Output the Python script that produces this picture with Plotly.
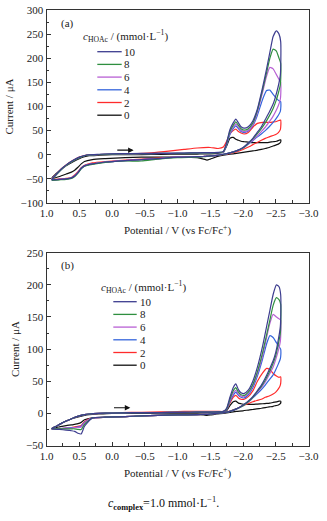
import plotly.graph_objects as go

# ---------------- data ----------------
# potential grid (V vs Fc/Fc+): forward (cathodic) branch then reverse branch
E_FWD = [0.92, 0.85, 0.78, 0.7, 0.6, 0.5, 0.42, 0.35, 0.2, 0.0, -0.3, -0.6, -0.9, -1.1, -1.3, -1.5, -1.62,
         -1.7, -1.75, -1.8, -1.85, -1.89, -1.93, -1.97, -2.02, -2.08, -2.15, -2.22, -2.3, -2.36, -2.41,
         -2.46, -2.51, -2.55, -2.575]
E_REV = [-2.578, -2.57, -2.54, -2.5, -2.46, -2.4, -2.34, -2.28, -2.21, -2.15, -2.1, -2.0,
         -1.9, -1.8, -1.7, -1.6, -1.5, -1.45, -1.4, -1.3, -1.0, -0.7, -0.45, -0.2, 0.1, 0.3,
         0.42, 0.47, 0.52, 0.57, 0.62, 0.7, 0.8, 0.92]

CONC = ["10", "8", "6", "4", "2", "0"]
COLORS = ["#3d3d8f", "#2f8f3f", "#b860d4", "#3465dc", "#ff2b2b", "#111111"]

# panel (a) currents / uA
A10_FWD = [-51, -40, -30, -21, -12, -5, -1.5, 0, 1, 2, 2.5, 3, 3, 3.5, 4, 4.5, 5,
           7, 25, 52, 66, 74, 66, 58, 55, 58, 70, 95, 140, 178, 212, 245, 257, 250, 235]
A8_FWD = [-52, -41, -31, -22, -13, -6, -2, -0.5, 0.5, 1.5, 2, 2.5, 3, 3, 3.5, 4, 4.5,
          6, 23, 48, 61, 68, 61, 54, 51, 54, 66, 92, 135, 170, 200, 219, 215, 200, 190]
A6_FWD = [-52, -41, -31, -22, -13, -6, -2, -0.5, 0.5, 1.5, 2, 2.5, 3, 3, 3.5, 4, 4.5,
          5, 22, 45, 57, 64, 57, 51, 48, 51, 62, 88, 130, 163, 181, 178, 166, 156, 150]
A4_FWD = [-52, -41, -31, -22, -13, -6, -2, -0.5, 0.5, 1.5, 2, 2.5, 3, 3, 3.5, 4, 4.5,
          5, 20, 42, 54, 60, 54, 48, 46, 49, 60, 82, 115, 133, 134, 125, 117, 112, 110]
A2_FWD = [-51, -40, -30, -21, -12, -5, -1.5, 0, 0.5, 1, 2, 4, 8, 11, 14, 15, 13,
          16, 28, 43, 50, 53, 48, 45, 43, 46, 57, 65, 67, 67, 67, 68, 69, 71, 72]
A0_FWD = [-48, -39, -31, -23, -15, -8, -4, -2, -1, 0, 0, 0.5, 1, 1, 1.5, 2, 3,
          5, 18, 34, 36, 32, 30, 28, 27, 26, 25, 25, 25, 25, 26, 27, 28, 30, 31]

A10_REV = [200, 165, 143, 122, 105, 88, 73, 58, 45, 34, 27, 15,
           8, 4, 1, -1.5, -2.5, -3, -3.5, -4, -5, -8, -10, -12, -15, -19, -23, -28, -37, -44, -48, -50, -51, -52]
A8_REV = [168, 145, 128, 110, 96, 80, 66, 54, 42, 33, 26, 14,
          8, 4, 1, -1.5, -3, -3.5, -4, -5, -6, -9, -13, -13, -16, -20, -24, -29, -38, -45, -49, -51, -52, -53]
A6_REV = [132, 115, 102, 90, 80, 68, 57, 48, 38, 30, 25, 14,
          8, 4, 1, -1.5, -2.5, -3, -3.5, -4, -5, -8, -10, -12, -15, -19, -23, -28, -36, -43, -48, -50, -51, -52]
A4_REV = [100, 90, 82, 74, 67, 58, 50, 43, 36, 29, 24, 14,
          8, 4, 1, -1.5, -2.5, -3, -3.5, -4, -5, -8, -10, -12, -15, -19, -23, -28, -37, -44, -48, -50, -51, -52]
A2_REV = [62, 52, 46, 42, 40, 37, 34, 30, 25, 21, 17, 11,
          6, 3, 0.5, -1.5, -2.5, -3, -3.5, -4, -5, -7, -9, -11, -14, -17, -22, -27, -35, -42, -47, -49, -50, -51]
A0_REV = [28, 25, 22, 20, 18, 15, 13, 11, 9, 8, 7, 5,
          3, 1, -1, -4, -9, -11, -9, -6, -5, -5, -5, -6, -8, -10, -14, -19, -26, -32, -36, -40, -45, -50]

# panel (b) currents / uA
B10_FWD = [-24, -20, -16, -12, -7.5, -4, -2, -1, 0, 0.5, 1, 1, 1.5, 1.5, 2, 2, 2.5,
           3, 8, 25, 40, 46, 37, 32, 31, 36, 50, 72, 105, 135, 160, 185, 200, 197, 185]
B8_FWD = [-24, -20, -16, -12, -7.5, -4, -2, -1, 0, 0.5, 1, 1, 1.5, 1.5, 2, 2, 2.5,
          3, 7, 22, 35, 40, 33, 29, 28, 33, 45, 65, 95, 122, 145, 168, 180, 177, 170]
B6_FWD = [-24, -20, -16, -12, -7.5, -4, -2, -1, 0, 0.5, 1, 1, 1.5, 1.5, 2, 2, 2.5,
          3, 7, 20, 31, 36, 30, 27, 26, 31, 43, 62, 90, 118, 140, 154, 150, 147, 145]
B4_FWD = [-24, -20, -16, -12, -7.5, -4, -2, -1, 0, 0.5, 1, 1, 1.5, 1.5, 2, 2, 2.5,
          3, 6, 18, 28, 33, 28, 25, 24, 29, 40, 58, 85, 108, 121, 118, 110, 104, 100]
B2_FWD = [-24, -20, -16, -12, -7.5, -4, -2, -1, 0, 0.5, 1.5, 2, 2.5, 3, 3, 3, 3,
          3, 6, 16, 25, 28, 24, 22, 22, 26, 35, 50, 63, 70, 68, 62, 58, 56, 57]
B0_FWD = [-23, -20, -16, -12, -8, -5, -3, -2, -1, 0, 0, 0, 0.5, 0.5, 0.5, 1, 1,
          1, 4, 12, 18, 19, 16, 15, 14, 14, 14, 14.5, 15, 15.5, 16, 17, 18, 19, 19]

B10_REV = [160, 135, 115, 95, 82, 68, 55, 44, 34, 26, 21, 13,
           7, 3, 1, 0, -1, -1.5, -1.5, -2, -2.5, -3, -4, -5, -6, -7, -20, -32, -31, -28, -27, -26, -25, -24]
B8_REV = [148, 125, 108, 90, 78, 64, 52, 42, 33, 25, 20, 12,
          7, 3, 1, 0, -1, -1.5, -1.5, -2, -2.5, -3, -4, -5, -6, -7, -17, -25, -25, -24, -24, -24, -24, -24]
B6_REV = [128, 112, 98, 84, 72, 60, 49, 40, 32, 25, 20, 12,
          7, 3, 1, 0, -1, -1.5, -1.5, -2, -2.5, -3, -4, -5, -6, -7, -15, -21, -22, -22, -23, -23, -24, -24]
B4_REV = [92, 85, 77, 68, 60, 52, 44, 37, 30, 24, 19, 12,
          7, 3, 1, 0, -1, -1.5, -1.5, -2, -2.5, -3, -4, -5, -6, -7, -14, -20, -21, -22, -22, -23, -24, -24]
B2_REV = [50, 44, 38, 33, 30, 27, 25, 22, 20, 18, 16, 12,
          7, 3.5, 1, 0, -1, -1.5, -1.5, -2, -2.5, -3, -4, -5, -6, -7, -13, -19, -20, -21, -22, -23, -24, -24]
B0_REV = [17, 15, 13, 12, 11, 10, 9, 8, 7, 6, 5.5, 4,
          3, 1.5, 0, -1, -2.5, -3, -2.5, -2, -2, -3, -4, -5, -6, -7, -10, -14, -16, -17, -18, -19, -21, -23]

X_TICKS = [1.0, 0.5, 0.0, -0.5, -1.0, -1.5, -2.0, -2.5, -3.0]
X_TICK_LABELS = ["1.0", "0.5", "0.0", "−0.5", "−1.0", "−1.5", "−2.0", "−2.5", "−3.0"]
Y_TICKS_A = [-100, -50, 0, 50, 100, 150, 200, 250, 300]
Y_TICK_LABELS_A = ["−100", "−50", "0", "50", "100", "150", "200", "250", "300"]
Y_TICKS_B = [-50, 0, 50, 100, 150, 200, 250]
Y_TICK_LABELS_B = ["−50", "0", "50", "100", "150", "200", "250"]
Y_RANGE_A = [-100, 300]
Y_RANGE_B = [-50, 250]
X_RANGE = [1.0, -3.0]

PANEL_A = [(A10_FWD, A10_REV), (A8_FWD, A8_REV), (A6_FWD, A6_REV),
           (A4_FWD, A4_REV), (A2_FWD, A2_REV), (A0_FWD, A0_REV)]
PANEL_B = [(B10_FWD, B10_REV), (B8_FWD, B8_REV), (B6_FWD, B6_REV),
           (B4_FWD, B4_REV), (B2_FWD, B2_REV), (B0_FWD, B0_REV)]

# ---------------- figure ----------------
W, H = 327, 521
FONT = "Liberation Serif, Times New Roman, serif"


def px(x):
    return x / W


def py(y):
    return 1 - y / H


fig = go.Figure()
E_LOOP = E_FWD + E_REV
for xa, ya, panel in (("x", "y", PANEL_A), ("x2", "y2", PANEL_B)):
    for i in reversed(range(len(CONC))):
        fwd, rev = panel[i]
        fig.add_trace(go.Scatter(
            x=E_LOOP, y=fwd + rev, mode="lines", name=CONC[i],
            line=dict(color=COLORS[i], width=1.2, shape="spline", smoothing=0.5),
            showlegend=False, xaxis=xa, yaxis=ya, hoverinfo="skip"))

tickfont = dict(family=FONT, size=11, color="#222")
common = dict(showline=True, linecolor="#333", linewidth=1, mirror=True,
              ticks="inside", ticklen=4, tickwidth=1, tickcolor="#333",
              showgrid=False, zeroline=False, tickfont=tickfont, automargin=False)
xdom = [px(46.5), px(308.5)]
xcommon = dict(common, range=X_RANGE, tickmode="array", tickvals=X_TICKS, ticktext=X_TICK_LABELS,
               minor=dict(dtick=0.25, tick0=0, ticks="inside", ticklen=3, tickcolor="#333", showgrid=False),
               title=dict(text="Potential / V (vs Fc/Fc<sup>+</sup>)",
                          font=dict(family=FONT, size=11, color="#222"), standoff=8))
ycommon = dict(common,
               minor=dict(dtick=25, tick0=0, ticks="inside", ticklen=2.5, tickcolor="#333", showgrid=False),
               title=dict(text="Current / μA", font=dict(family=FONT, size=11, color="#222"), standoff=4))

fig.update_layout(
    width=W, height=H, margin=dict(l=0, r=0, t=0, b=0),
    paper_bgcolor="white", plot_bgcolor="white", showlegend=False,
    font=dict(family=FONT, size=11, color="#222"),
    xaxis=dict(xcommon, domain=xdom, anchor="y"),
    yaxis=dict(ycommon, domain=[py(203), py(10)], range=Y_RANGE_A, anchor="x",
               tickmode="array", tickvals=Y_TICKS_A, ticktext=Y_TICK_LABELS_A),
    xaxis2=dict(xcommon, domain=xdom, anchor="y2"),
    yaxis2=dict(ycommon, domain=[py(445.5), py(252.7)], range=Y_RANGE_B, anchor="x2",
                tickmode="array", tickvals=Y_TICKS_B, ticktext=Y_TICK_LABELS_B),
)

annotations = []
shapes = []
# panel letters
annotations.append(dict(text="(a)", x=px(67.5), y=py(24), xref="paper", yref="paper",
                        xanchor="center", yanchor="middle", borderpad=0,
                        showarrow=False, font=dict(family=FONT, size=11, color="#222")))
annotations.append(dict(text="(b)", x=px(67), y=py(265), xref="paper", yref="paper",
                        xanchor="center", yanchor="middle", borderpad=0,
                        showarrow=False, font=dict(family=FONT, size=11, color="#222")))

# scan direction arrows
annotations.append(dict(x=-0.33, y=9.5, ax=-0.05, ay=9.5, xref="x", yref="y", axref="x", ayref="y",
                        text=" ", showarrow=True, arrowhead=2, arrowsize=1, arrowwidth=1.1,
                        arrowcolor="#111", font=dict(size=2)))
annotations.append(dict(x=-0.28, y=8.7, ax=0.0, ay=8.7, xref="x2", yref="y2", axref="x2", ayref="y2",
                        text=" ", showarrow=True, arrowhead=2, arrowsize=1, arrowwidth=1.1,
                        arrowcolor="#111", font=dict(size=2)))

# manual legends
LEG_TITLE = "<i>c</i><sub>HOAc</sub> / (mmol·L<sup>−1</sup>)"
for (tx, ty, lx0, lx1, labx, y0) in ((82.0, 36.0, 97.3, 121.7, 123.0, 51.7),
                                     (99.5, 286.5, 113.3, 136.7, 138.5, 301.7)):
    annotations.append(dict(text=LEG_TITLE, x=px(tx), y=py(ty), xref="paper", yref="paper",
                            xanchor="left", yanchor="middle", showarrow=False, borderpad=0,
                            font=dict(family=FONT, size=11, color="#222")))
    for i, c in enumerate(CONC):
        yy = y0 + i * 12.7
        shapes.append(dict(type="line", xref="paper", yref="paper", x0=px(lx0), x1=px(lx1),
                           y0=py(yy), y1=py(yy), line=dict(color=COLORS[i], width=1.3)))
        annotations.append(dict(text=c, x=px(labx), y=py(yy), xref="paper", yref="paper",
                                xanchor="left", yanchor="middle", showarrow=False, borderpad=0,
                                font=dict(family=FONT, size=11, color="#222")))

# caption
annotations.append(dict(text="<i>c</i><sub><b>complex</b></sub>=1.0 mmol·L<sup>−1</sup>.",
                        x=px(163.5), y=py(503), xref="paper", yref="paper",
                        xanchor="center", yanchor="middle", showarrow=False,
                        font=dict(family=FONT, size=12, color="#111")))

fig.update_layout(annotations=annotations, shapes=shapes)
fig.write_html("out.html", config={"displayModeBar": False, "staticPlot": True},
               post_script="document.body.style.margin='0';document.body.style.overflow='hidden';")
